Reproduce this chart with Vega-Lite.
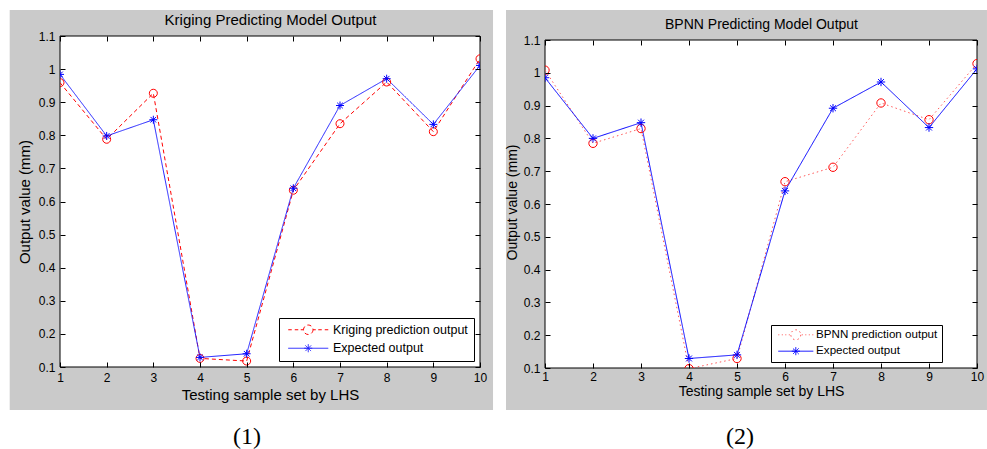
{
  "$schema": "https://vega.github.io/schema/vega-lite/v6.json",
  "background": "white",
  "padding": {"left": 9, "top": 9, "right": 0, "bottom": 0},
  "config": {"view": {"stroke": null}, "font": "Liberation Sans"},
  "align": "none",
  "bounds": "full",
  "datasets": {
    "k": [
      {"sample": 1, "value": 0.959, "series": "Kriging prediction output"},
      {"sample": 2, "value": 0.788, "series": "Kriging prediction output"},
      {"sample": 3, "value": 0.927, "series": "Kriging prediction output"},
      {"sample": 4, "value": 0.126, "series": "Kriging prediction output"},
      {"sample": 5, "value": 0.118, "series": "Kriging prediction output"},
      {"sample": 6, "value": 0.634, "series": "Kriging prediction output"},
      {"sample": 7, "value": 0.835, "series": "Kriging prediction output"},
      {"sample": 8, "value": 0.961, "series": "Kriging prediction output"},
      {"sample": 9, "value": 0.811, "series": "Kriging prediction output"},
      {"sample": 10, "value": 1.031, "series": "Kriging prediction output"},
      {"sample": 1, "value": 0.984, "series": "Expected output"},
      {"sample": 2, "value": 0.798, "series": "Expected output"},
      {"sample": 3, "value": 0.847, "series": "Expected output"},
      {"sample": 4, "value": 0.129, "series": "Expected output"},
      {"sample": 5, "value": 0.140, "series": "Expected output"},
      {"sample": 6, "value": 0.640, "series": "Expected output"},
      {"sample": 7, "value": 0.890, "series": "Expected output"},
      {"sample": 8, "value": 0.971, "series": "Expected output"},
      {"sample": 9, "value": 0.833, "series": "Expected output"},
      {"sample": 10, "value": 1.011, "series": "Expected output"}
    ],
    "b": [
      {"sample": 1, "value": 1.008, "series": "BPNN prediction output"},
      {"sample": 2, "value": 0.785, "series": "BPNN prediction output"},
      {"sample": 3, "value": 0.830, "series": "BPNN prediction output"},
      {"sample": 4, "value": 0.098, "series": "BPNN prediction output"},
      {"sample": 5, "value": 0.129, "series": "BPNN prediction output"},
      {"sample": 6, "value": 0.668, "series": "BPNN prediction output"},
      {"sample": 7, "value": 0.712, "series": "BPNN prediction output"},
      {"sample": 8, "value": 0.908, "series": "BPNN prediction output"},
      {"sample": 9, "value": 0.857, "series": "BPNN prediction output"},
      {"sample": 10, "value": 1.028, "series": "BPNN prediction output"},
      {"sample": 1, "value": 0.985, "series": "Expected output"},
      {"sample": 2, "value": 0.800, "series": "Expected output"},
      {"sample": 3, "value": 0.848, "series": "Expected output"},
      {"sample": 4, "value": 0.129, "series": "Expected output"},
      {"sample": 5, "value": 0.140, "series": "Expected output"},
      {"sample": 6, "value": 0.640, "series": "Expected output"},
      {"sample": 7, "value": 0.892, "series": "Expected output"},
      {"sample": 8, "value": 0.972, "series": "Expected output"},
      {"sample": 9, "value": 0.833, "series": "Expected output"},
      {"sample": 10, "value": 1.012, "series": "Expected output"}
    ]
  },
  "hconcat": [
    {
      "width": 420, "height": 331,
      "title": {"text": "(1)", "orient": "bottom", "font": "Liberation Serif", "fontSize": 24, "fontWeight": "normal", "color": "black", "offset": 15, "anchor": "middle", "frame": "group", "dx": -23},
      "resolve": {"axis": {"x": "independent", "y": "independent"}, "scale": {"color": "independent", "shape": "independent", "strokeDash": "independent"}},
      "layer": [
        {
          "data": {"values": [{}]},
          "mark": {"type": "rect", "fill": "#cacaca"},
          "encoding": {
            "x": {"datum": -0.078, "type": "quantitative", "scale": {"domain": [1, 10], "nice": false, "zero": false}, "axis": null},
            "x2": {"datum": 10.279},
            "y": {"datum": -0.03, "type": "quantitative", "scale": {"domain": [0.1, 1.1], "nice": false, "zero": false}, "axis": null},
            "y2": {"datum": 1.1785}
          }
        },
        {
          "data": {"values": [{}]},
          "mark": {"type": "rect", "fill": "white", "stroke": "black", "strokeWidth": 1},
          "encoding": {
            "x": {"datum": 1, "type": "quantitative", "axis": {"orient": "bottom", "values": [1,2,3,4,5,6,7,8,9,10], "format": "d", "tickSize": -5, "tickColor": "black", "domain": false, "grid": false, "labelFlush": false, "labelOverlap": false, "labelFont": "Liberation Sans", "labelFontSize": 12, "labelColor": "black", "labelPadding": 10, "title": "Testing sample set by LHS", "titleFont": "Liberation Sans", "titleFontSize": 15, "titleFontWeight": "normal", "titleColor": "black", "titlePadding": 4, "zindex": 1}},
            "x2": {"datum": 10},
            "y": {"datum": 0.1, "type": "quantitative", "axis": {"orient": "left", "values": [0.1,0.2,0.3,0.4,0.5,0.6,0.7,0.8,0.9,1,1.1], "format": ".2~f", "tickSize": -5, "tickColor": "black", "domain": false, "grid": false, "labelFlush": false, "labelOverlap": false, "labelFont": "Liberation Sans", "labelFontSize": 12, "labelColor": "black", "labelPadding": 10, "title": "Output value (mm)", "titleFont": "Liberation Sans", "titleFontSize": 15, "titleFontWeight": "normal", "titleColor": "black", "titlePadding": 6, "zindex": 1}},
            "y2": {"datum": 1.1}
          }
        },
        {
          "data": {"name": "k"},
          "mark": {"type": "line", "clip": true, "strokeWidth": 1},
          "encoding": {
            "x": {"field": "sample", "type": "quantitative", "axis": {"orient": "top", "values": [1,2,3,4,5,6,7,8,9,10], "labels": false, "tickSize": -5, "tickColor": "black", "domain": false, "grid": false, "title": "Kriging Predicting Model Output", "titleFont": "Liberation Sans", "titleFontSize": 15, "titleFontWeight": "normal", "titleColor": "black", "titlePadding": 8, "zindex": 1}},
            "y": {"field": "value", "type": "quantitative", "axis": {"orient": "right", "values": [0.1,0.2,0.3,0.4,0.5,0.6,0.7,0.8,0.9,1,1.1], "labels": false, "tickSize": -5, "tickColor": "black", "domain": false, "grid": false, "title": null, "zindex": 1}},
            "color": {"field": "series", "type": "nominal", "scale": {"domain": ["Kriging prediction output", "Expected output"], "range": ["#ff0000", "#2020ff"]},
              "legend": {"title": null, "orient": "none", "legendX": 219, "legendY": 282, "fillColor": "white", "strokeColor": "black", "padding": 5.5, "labelFont": "Liberation Sans", "labelFontSize": 12.5, "labelColor": "black", "labelOffset": 18.5, "symbolOffset": 17.5, "symbolSize": 100, "symbolStrokeWidth": 1, "rowPadding": 5.5, "zindex": 2,
                "encode": {"symbols": {"update": {"shape": {"signal": "datum.value === 'Expected output' ? 'M-4,0H4M0,-0.8V0.8M-0.8,0H0.8M-0.56,-0.56L0.56,0.56M-0.56,0.56L0.56,-0.56' : 'M-4,0H-3.3M-2.7,0H-2M-1.5,0H-0.95M0.95,0H1.5M2,0H2.7M3.3,0H4M0.95,0A0.95,0.95 0 1 1 -0.95,0A0.95,0.95 0 1 1 0.95,0Z'"}, "fill": {"value": "transparent"}, "strokeDash": {"value": [1, 0]}}}}}},
            "strokeDash": {"field": "series", "type": "nominal", "scale": {"domain": ["Kriging prediction output", "Expected output"], "range": [[4, 3], [1, 0]]}, "legend": null}
          }
        },
        {
          "data": {"name": "k"},
          "mark": {"type": "point", "filled": false, "clip": true, "size": 64, "strokeWidth": 1, "opacity": 1},
          "encoding": {
            "x": {"field": "sample", "type": "quantitative", "axis": null},
            "y": {"field": "value", "type": "quantitative", "axis": null},
            "color": {"field": "series", "type": "nominal", "scale": {"domain": ["Kriging prediction output", "Expected output"], "range": ["#ff0000", "#0000ff"]}, "legend": null},
            "shape": {"field": "series", "type": "nominal", "scale": {"domain": ["Kriging prediction output", "Expected output"], "range": ["M1,0A1,1 0 1 1 -1,0A1,1 0 1 1 1,0Z", "M0,-1V1M-1,0H1M-0.7,-0.7L0.7,0.7M-0.7,0.7L0.7,-0.7"]}, "legend": null}
          }
        }
      ]
    },
    {
      "width": 432, "height": 332,
      "title": {"text": "(2)", "orient": "bottom", "font": "Liberation Serif", "fontSize": 24, "fontWeight": "normal", "color": "black", "offset": 15, "anchor": "middle", "frame": "group", "dx": -21},
      "resolve": {"axis": {"x": "independent", "y": "independent"}, "scale": {"color": "independent", "shape": "independent", "strokeDash": "independent"}},
      "layer": [
        {
          "data": {"values": [{}]},
          "mark": {"type": "rect", "fill": "#cacaca"},
          "encoding": {
            "x": {"datum": 0.1875, "type": "quantitative", "scale": {"domain": [1, 10], "nice": false, "zero": false}, "axis": null},
            "x2": {"datum": 10.208},
            "y": {"datum": -0.028, "type": "quantitative", "scale": {"domain": [0.1, 1.1122], "nice": false, "zero": false}, "axis": null},
            "y2": {"datum": 1.1915}
          }
        },
        {
          "data": {"values": [{}]},
          "mark": {"type": "rect", "fill": "white", "stroke": "black", "strokeWidth": 1},
          "encoding": {
            "x": {"datum": 1, "type": "quantitative", "axis": {"orient": "bottom", "values": [1,2,3,4,5,6,7,8,9,10], "format": "d", "tickSize": -5, "tickColor": "black", "domain": false, "grid": false, "labelFlush": false, "labelOverlap": false, "labelFont": "Liberation Sans", "labelFontSize": 12, "labelColor": "black", "labelPadding": 8, "title": "Testing sample set by LHS", "titleFont": "Liberation Sans", "titleFontSize": 14, "titleFontWeight": "normal", "titleColor": "black", "titlePadding": 2, "zindex": 1}},
            "x2": {"datum": 10},
            "y": {"datum": 0.1, "type": "quantitative", "axis": {"orient": "left", "values": [0.1,0.2,0.3,0.4,0.5,0.6,0.7,0.8,0.9,1,1.1], "format": ".2~f", "tickSize": -5, "tickColor": "black", "domain": false, "grid": false, "labelFlush": false, "labelOverlap": false, "labelFont": "Liberation Sans", "labelFontSize": 12, "labelColor": "black", "labelPadding": 10, "title": "Output value (mm)", "titleFont": "Liberation Sans", "titleFontSize": 14, "titleFontWeight": "normal", "titleColor": "black", "titlePadding": 4, "zindex": 1}},
            "y2": {"datum": 1.1}
          }
        },
        {
          "data": {"name": "b"},
          "mark": {"type": "line", "clip": true, "strokeWidth": 1},
          "encoding": {
            "x": {"field": "sample", "type": "quantitative", "axis": {"orient": "top", "offset": -4, "values": [1,2,3,4,5,6,7,8,9,10], "labels": false, "tickSize": -5, "tickColor": "black", "domain": false, "grid": false, "title": "BPNN Predicting Model Output", "titleFont": "Liberation Sans", "titleFontSize": 14, "titleFontWeight": "normal", "titleColor": "black", "titlePadding": 8, "zindex": 1}},
            "y": {"field": "value", "type": "quantitative", "axis": {"orient": "right", "values": [0.1,0.2,0.3,0.4,0.5,0.6,0.7,0.8,0.9,1,1.1], "labels": false, "tickSize": -5, "tickColor": "black", "domain": false, "grid": false, "title": null, "zindex": 1}},
            "color": {"field": "series", "type": "nominal", "scale": {"domain": ["BPNN prediction output", "Expected output"], "range": ["#ff5a5a", "#0000ff"]},
              "legend": {"title": null, "orient": "none", "legendX": 226, "legendY": 289, "fillColor": "white", "strokeColor": "black", "padding": 4, "labelFont": "Liberation Sans", "labelFontSize": 11.6, "labelColor": "black", "labelOffset": 14.5, "symbolOffset": 15, "symbolSize": 100, "symbolStrokeWidth": 1, "rowPadding": 2.4, "zindex": 2,
                "encode": {"symbols": {"update": {"shape": {"signal": "datum.value === 'Expected output' ? 'M-3.5,0H3.5M0,-0.8V0.8M-0.8,0H0.8M-0.56,-0.56L0.56,0.56M-0.56,0.56L0.56,-0.56' : 'M-3.5,0H-3.3M-2.8,0H-2.6M-2.1,0H-1.9M-1.4,0H-1.2M1.2,0H1.4M1.9,0H2.1M2.6,0H2.8M3.3,0H3.5M1,0A1,1 0 1 1 -1,0A1,1 0 1 1 1,0Z'"}, "fill": {"value": "transparent"}, "strokeDash": {"value": [1, 0]}}}}}},
            "strokeDash": {"field": "series", "type": "nominal", "scale": {"domain": ["BPNN prediction output", "Expected output"], "range": [[1.5, 3], [1, 0]]}, "legend": null}
          }
        },
        {
          "data": {"name": "b"},
          "mark": {"type": "point", "filled": false, "clip": true, "size": 70, "strokeWidth": 1, "opacity": 1},
          "encoding": {
            "x": {"field": "sample", "type": "quantitative", "axis": null},
            "y": {"field": "value", "type": "quantitative", "axis": null},
            "color": {"field": "series", "type": "nominal", "scale": {"domain": ["BPNN prediction output", "Expected output"], "range": ["#ff0000", "#0000ff"]}, "legend": null},
            "shape": {"field": "series", "type": "nominal", "scale": {"domain": ["BPNN prediction output", "Expected output"], "range": ["M1,0A1,1 0 1 1 -1,0A1,1 0 1 1 1,0Z", "M0,-1V1M-1,0H1M-0.7,-0.7L0.7,0.7M-0.7,0.7L0.7,-0.7"]}, "legend": null}
          }
        }
      ]
    }
  ],
  "spacing": 11
}
